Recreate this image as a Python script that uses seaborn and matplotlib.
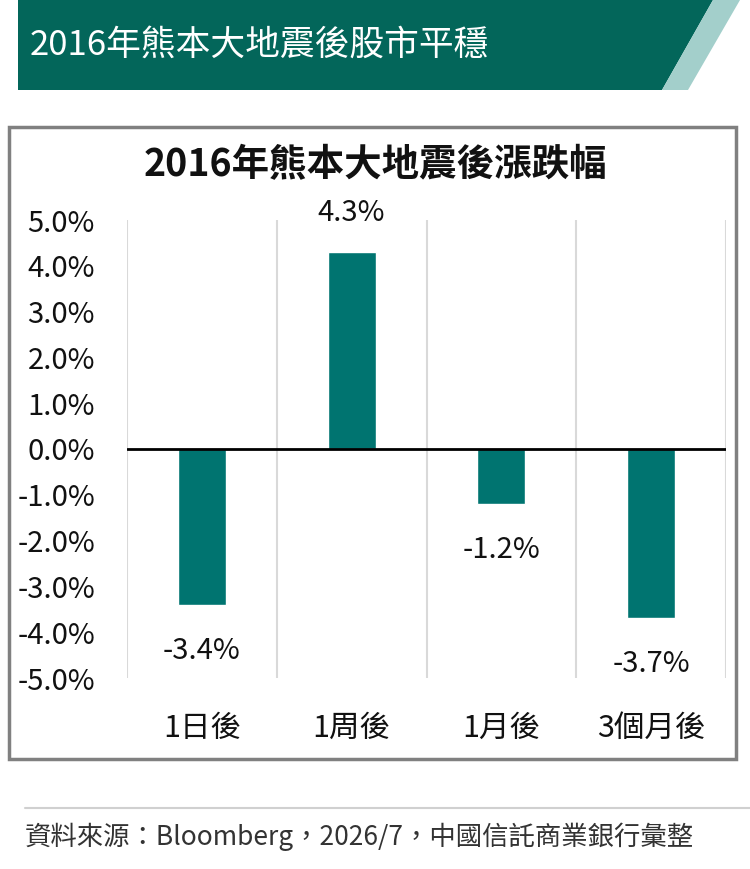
import numpy as np
import pandas as pd
import matplotlib.pyplot as plt
import seaborn as sns
from matplotlib.patches import Polygon, Rectangle
from matplotlib.lines import Line2D
from matplotlib.ticker import FuncFormatter, FixedLocator

# ---------------------------------------------------------------------------
# Data
# ---------------------------------------------------------------------------
periods = ['1日後', '1周後', '1月後', '3個月後']
returns = [-3.4, 4.3, -1.2, -3.7]
y_ticks = [-5, -4, -3, -2, -1, 0, 1, 2, 3, 4, 5]

header_title = '2016年熊本大地震後股市平穩'
chart_title = '2016年熊本大地震後漲跌幅'
source_note = '資料來源：Bloomberg，2026/7，中國信託商業銀行彙整'

BAR_COLOR = '#007470'
DARK_GREEN = '#03665A'
LIGHT_TEAL = '#A3CFCB'

W, H = 750, 869


def px(x, y):
    # pixel coords (top-left origin) -> figure fraction
    return (x / W, 1 - y / H)


sns.set_theme(style='white')
plt.rcParams['font.family'] = ['Noto Sans CJK TC', 'DejaVu Sans']

df = pd.DataFrame({'period': periods, 'ret': returns})

fig = plt.figure(figsize=(W / 100, H / 100), dpi=100)
fig.patch.set_facecolor('white')

# header banner
fig.add_artist(Polygon([px(18, 0), px(713, 0), px(662, 90), px(18, 90)],
                       closed=True, transform=fig.transFigure,
                       facecolor=DARK_GREEN, edgecolor='none'))
fig.add_artist(Polygon([px(713, 0), px(740, 0), px(688, 90), px(662, 90)],
                       closed=True, transform=fig.transFigure,
                       facecolor=LIGHT_TEAL, edgecolor='none'))
fig.text(*px(30, 45), header_title, color='white', fontsize=25,
         fontweight='medium', ha='left', va='center')

# chart frame
x0, y0 = px(9, 759)
x1, y1 = px(736, 127)
fig.add_artist(Rectangle((x0, y0), x1 - x0, y1 - y0, transform=fig.transFigure,
                         facecolor='none', edgecolor='#808080', linewidth=2.5))
fig.text(*px(375, 165), chart_title, color='#111111', fontsize=27,
         fontweight='bold', ha='center', va='center')

# axes
l, b = px(127, 678)
r, t = px(726, 220)
ax = fig.add_axes([l, b, r - l, t - b])

sns.barplot(data=df, x='period', y='ret', color=BAR_COLOR, width=0.32,
            saturation=1, ax=ax, zorder=3)

ax.set_ylim(-5, 5)
ax.set_xlim(-0.5, len(periods) - 0.5)
ax.yaxis.set_major_locator(FixedLocator(y_ticks))
ax.yaxis.set_major_formatter(FuncFormatter(lambda v, _: f'{v:.1f}%'))

# category separators as vertical gridlines
bounds = np.arange(len(periods) + 1) - 0.5
ax.xaxis.set_minor_locator(FixedLocator(bounds))
ax.grid(which='minor', axis='x', color='#d9d9d9', linewidth=1.5)
ax.grid(which='major', axis='both', visible=False)
ax.axhline(0, color='black', linewidth=2, zorder=4)

for s in ax.spines.values():
    s.set_visible(False)
ax.tick_params(axis='both', which='both', length=0)
ax.tick_params(axis='y', labelsize=21, pad=23, labelcolor='#111111')
ax.tick_params(axis='x', labelsize=22, pad=25, labelcolor='#111111')
ax.set_xlabel('')
ax.set_ylabel('')

# value labels
for i, v in enumerate(returns):
    off = 28 if v > 0 else -33
    ax.annotate(f'{v:.1f}%', (i, v), xytext=(0, off), textcoords='offset points',
                ha='center', va='center', fontsize=21, color='#111111')

# footer
fig.add_artist(Line2D([25 / W, 750 / W], [1 - 808 / H, 1 - 808 / H],
                      transform=fig.transFigure, color='#d0d0d0', linewidth=1.5))
fig.text(*px(25, 837), source_note, color='#333333', fontsize=19,
         ha='left', va='center')

fig.savefig('out.png', dpi=100, facecolor='white')
